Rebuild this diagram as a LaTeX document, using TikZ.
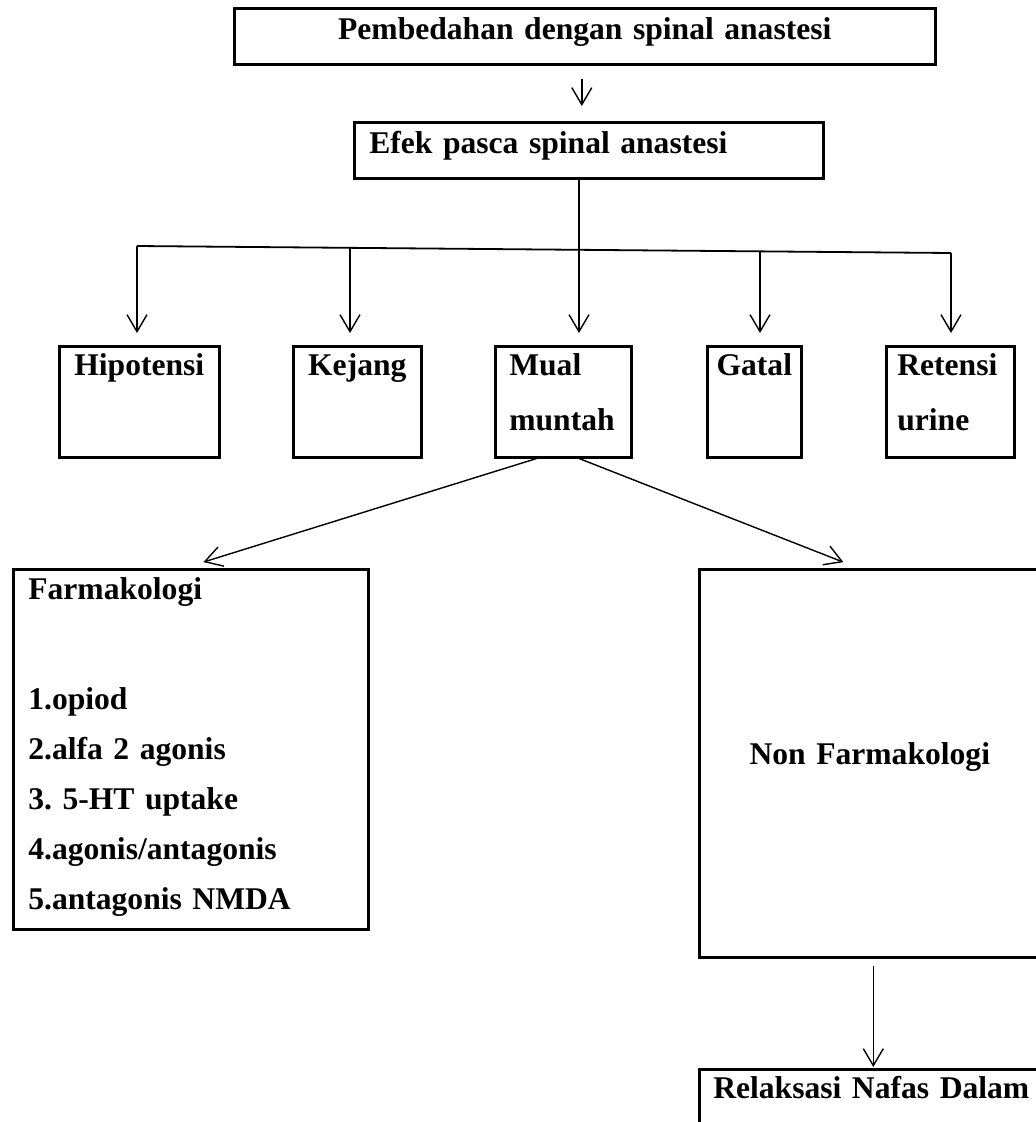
\documentclass[tikz,border=0pt]{standalone}
\usepackage{fontspec}
\setmainfont{Liberation Serif}
\usetikzlibrary{arrows.meta,calc}

\begin{document}
\begin{tikzpicture}[x=1pt,y=-1pt,>={Straight Barb[length=17pt,width=20pt]},
  box/.style={draw,line width=2.6pt,inner sep=0pt,anchor=north west,font=\bfseries\frenchspacing\fontsize{31.6}{55}\selectfont},
  conn/.style={line width=1.4pt}]
\useasboundingbox (0,0) rectangle (1036,1122);
\clip (0,0) rectangle (1036,1122);
% top of the chart
\node[box,text width=701pt,align=center,text height=31pt,text depth=25pt] (surgery) at (233,7) {Pembedahan dengan spinal anastesi};
\node[box,inner xsep=15pt,text width=439pt,align=left,text height=31pt,text depth=25pt] (effect) at (353,121) {Efek pasca spinal anastesi};
\draw[conn,->,shorten <=13pt,shorten >=15pt] ([xshift=-3pt]surgery.south) -- ([xshift=-3pt]surgery.south |- effect.north);
% row of effects
\node[box,text width=160pt,align=center,text height=29pt,text depth=82pt] (hipo) at (58,345) {Hipotensi};
\node[box,text width=128pt,align=center,text height=29pt,text depth=82pt] (kejang) at (292,345) {Kejang};
\node[box,inner xsep=14pt,text width=108pt,align=left,text height=29pt,text depth=82pt] (mual) at (494,345) {Mual\\muntah};
\node[box,text width=94pt,align=center,text height=29pt,text depth=82pt] (gatal) at (706,345) {Gatal};
\node[box,inner xsep=11pt,text width=106pt,align=left,text height=29pt,text depth=82pt] (retensi) at (885,345) {Retensi\\urine};
\coordinate (b1) at (137,246); \coordinate (b2) at (350,248); \coordinate (b3) at (579,250);
\coordinate (b4) at (760,251); \coordinate (b5) at (951,253);
\draw[conn] (effect.south -| b3) -- (b3);
\draw[line width=1.8pt] (b1) -- (b5);
\foreach \b/\n in {b1/hipo,b2/kejang,b3/mual,b4/gatal,b5/retensi}
  \draw[conn,->,shorten >=12pt] (\b) -- (\b |- \n.north);
% treatment
\node[box,font=\bfseries\frenchspacing\fontsize{31.6}{50}\selectfont,inner xsep=15pt,text width=325pt,align=left,text height=30pt,text depth=330pt] (farm) at (12,568)
  {Farmakologi\\[60pt]1.opiod\\2.alfa 2 agonis\\3. 5-HT uptake\\4.agonis/antagonis\\5.antagonis NMDA};
\node[box,text width=344pt,align=center,text height=195pt,text depth=193pt] (nonfarm) at (698,568) {\hspace*{-3pt}Non Farmakologi};
\node[box,inner xsep=14pt,text width=319pt,align=left,text height=29pt,text depth=38pt] (relax) at (698,1068) {Relaksasi Nafas Dalam};
\draw[conn,->,shorten >=20pt] ([xshift=-27pt]mual.south) -- ([xshift=-6.5pt]farm.north);
\draw[conn,->,shorten >=16pt] ([xshift=16pt]mual.south) -- ([xshift=-13pt]nonfarm.north);
\draw[conn,->,shorten <=7pt,shorten >=1pt] ([xshift=2pt]nonfarm.south) -- ([xshift=2pt]nonfarm.south |- relax.north);
\end{tikzpicture}
\end{document}
